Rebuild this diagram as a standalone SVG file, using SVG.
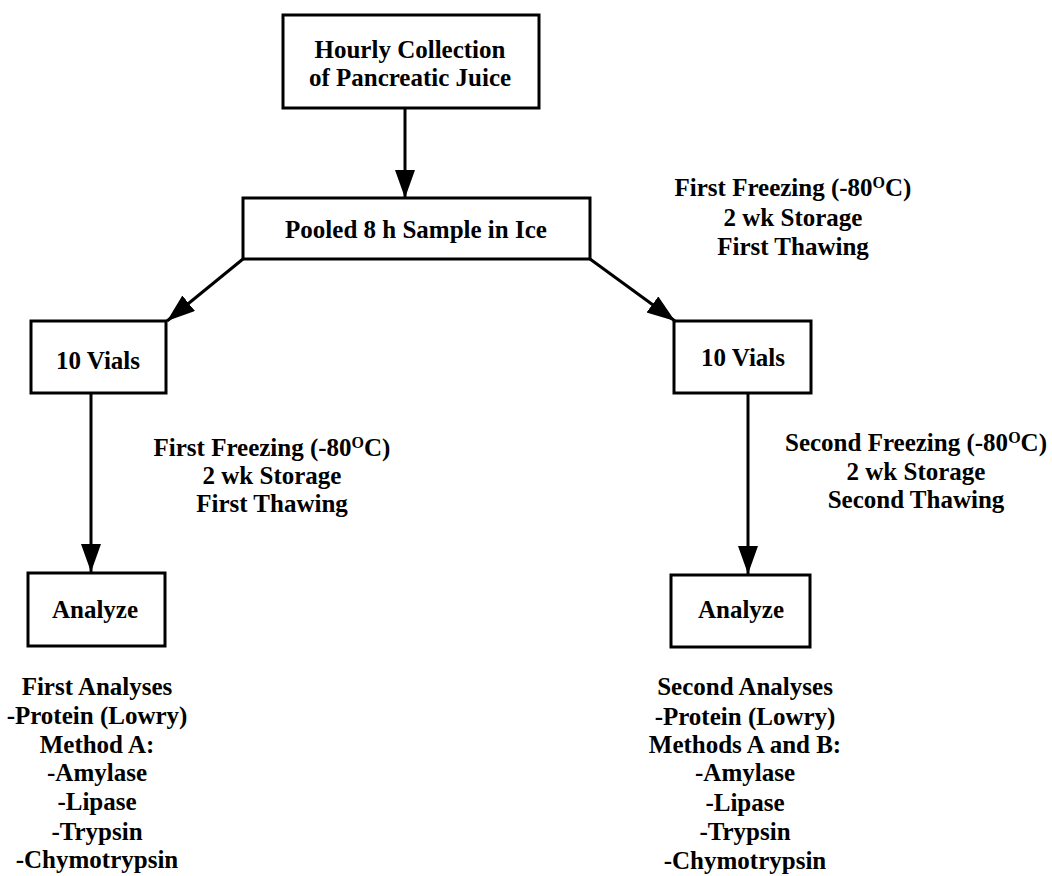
<svg xmlns="http://www.w3.org/2000/svg" width="1052" height="876" viewBox="0 0 1052 876">
<style>
.box{fill:#fff;stroke:#000;stroke-width:3}
.t{font-family:"Liberation Serif","Times New Roman",serif;font-weight:bold;font-size:25px;fill:#000;text-anchor:middle}
.c{stroke:#000;stroke-width:3;fill:none}
.sup{font-size:16px}
</style>
<defs>
<marker id="ah" markerUnits="userSpaceOnUse" markerWidth="30" markerHeight="22" refX="28" refY="10" orient="auto">
<path d="M0,0 L28,10 L0,20 Z" fill="#000"/>
</marker>
</defs>
<rect width="1052" height="876" fill="#fff"/>
<g id="connectors">
<line class="c" x1="405" y1="108" x2="405" y2="198" marker-end="url(#ah)"/>
<line class="c" x1="243" y1="259" x2="167" y2="321" marker-end="url(#ah)"/>
<line class="c" x1="590" y1="259" x2="675" y2="321" marker-end="url(#ah)"/>
<line class="c" x1="91" y1="393" x2="91" y2="572" marker-end="url(#ah)"/>
<line class="c" x1="748" y1="393" x2="748" y2="574" marker-end="url(#ah)"/>
</g>
<g id="hourly">
<rect class="box" x="283" y="15" width="256" height="93"/>
<text class="t" x="410" y="58">Hourly Collection</text>
<text class="t" x="410" y="86">of Pancreatic Juice</text>
</g>
<g id="pooled">
<rect class="box" x="243" y="198" width="347" height="61"/>
<text class="t" x="416" y="238">Pooled 8 h Sample in Ice</text>
</g>
<g id="vials-left">
<rect class="box" x="31" y="321" width="135" height="72"/>
<text class="t" x="98" y="369">10 Vials</text>
</g>
<g id="vials-right">
<rect class="box" x="674" y="321" width="137" height="72"/>
<text class="t" x="743" y="366">10 Vials</text>
</g>
<g id="analyze-left">
<rect class="box" x="28" y="573" width="137" height="73"/>
<text class="t" x="95" y="618">Analyze</text>
</g>
<g id="analyze-right">
<rect class="box" x="671" y="575" width="139" height="72"/>
<text class="t" x="741" y="618">Analyze</text>
</g>
<g id="label-top-right">
<text class="t" x="793" y="196">First Freezing (-80<tspan class="sup" dy="-8">O</tspan><tspan dy="8">C)</tspan></text>
<text class="t" x="793" y="226">2 wk Storage</text>
<text class="t" x="793" y="255">First Thawing</text>
</g>
<g id="label-left">
<text class="t" x="272" y="456">First Freezing (-80<tspan class="sup" dy="-8">O</tspan><tspan dy="8">C)</tspan></text>
<text class="t" x="272" y="484">2 wk Storage</text>
<text class="t" x="272" y="512">First Thawing</text>
</g>
<g id="label-right">
<text class="t" x="916" y="451">Second Freezing (-80<tspan class="sup" dy="-8">O</tspan><tspan dy="8">C)</tspan></text>
<text class="t" x="916" y="480">2 wk Storage</text>
<text class="t" x="916" y="508">Second Thawing</text>
</g>
<g id="list-left">
<text class="t" x="97" y="695">First Analyses</text>
<text class="t" x="97" y="724">-Protein (Lowry)</text>
<text class="t" x="97" y="753">Method A:</text>
<text class="t" x="97" y="781">-Amylase</text>
<text class="t" x="97" y="810">-Lipase</text>
<text class="t" x="97" y="840">-Trypsin</text>
<text class="t" x="97" y="868">-Chymotrypsin</text>
</g>
<g id="list-right">
<text class="t" x="745" y="695">Second Analyses</text>
<text class="t" x="745" y="725">-Protein (Lowry)</text>
<text class="t" x="745" y="753">Methods A and B:</text>
<text class="t" x="745" y="781">-Amylase</text>
<text class="t" x="745" y="811">-Lipase</text>
<text class="t" x="745" y="840">-Trypsin</text>
<text class="t" x="745" y="869">-Chymotrypsin</text>
</g>
</svg>
